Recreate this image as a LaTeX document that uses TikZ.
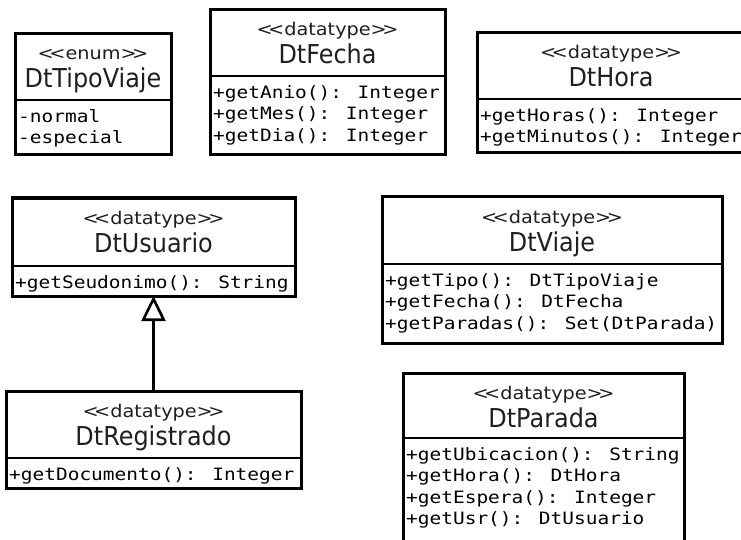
\documentclass[tikz,border=0pt]{standalone}
\usepackage{fontspec}
\usetikzlibrary{arrows.meta}
\newfontfamily\utitle{DejaVu Sans}[FakeStretch=0.92]
\newfontfamily\ustereo{DejaVu Sans}[FakeStretch=1.1]
\newfontfamily\umono{DejaVu Sans Mono}[FakeStretch=1.145]
% stereotype brackets, kept apart so no guillemet ligature forms
\newcommand\stereo[1]{<\kern-4.5pt<#1>\kern-4.5pt>}
\tikzset{
  cbox/.style={draw, line width=3pt, inner sep=0pt, outer sep=0pt, fill=white},
  cline/.style={line width=2.6pt},
  cstereo/.style={anchor=base, inner sep=0pt, font=\ustereo\fontsize{17.5}{20}\selectfont, text=black!88},
  ctitle/.style={anchor=base, inner sep=0pt, font=\utitle\fontsize{26}{30}\selectfont, text=black!88},
  cbody/.style={anchor=north west, inner sep=0pt, align=left, font=\umono\fontsize{17}{21.5}\selectfont, text=black},
  inherit/.style={line width=3pt, -{Triangle[open, length=25pt, width=24pt, line width=2.6pt]}}
}
% #1 name, #2 left, #3 top, #4 right, #5 divider, #6 bottom, #7 stereotype, #8 title, #9 operations
\newcommand\umlclass[9]{%
  \node[cbox, minimum width={#4-#2}, minimum height={#6-#3}] (#1) at ({(#2+#4)/2},{(#3+#6)/2}) {};
  \draw[cline] (#2,#5) -- (#4,#5);
  \node[cstereo] (#1-st) at ({(#2+#4)/2},#3+26) {\stereo{#7}};
  \node[ctitle] (#1-tt) at ({(#2+#4)/2},#3+54) {#8};
  \node[cbody] (#1-ops) at (#2+3,#5+9) {#9};
}
\begin{document}
\begin{tikzpicture}[x=1pt, y=-1pt]
  \useasboundingbox (0,0) rectangle (741,540);
  \fill[white] (0,0) rectangle (741,540);
  \clip (0,0) rectangle (741,540);

  \umlclass{tipo}{15}{34}{171}{100}{155}{enum}{DtTipoViaje}{-normal\\-especial}
  \umlclass{fecha}{210}{10}{445}{76}{155}{datatype}{DtFecha}%
    {+getAnio(): Integer\\+getMes(): Integer\\+getDia(): Integer}
  \umlclass{hora}{477}{33}{745}{99}{153}{datatype}{DtHora}%
    {+getHoras(): Integer\\+getMinutos(): Integer}
  \umlclass{usr}{12}{198}{295}{266}{296}{datatype}{DtUsuario}%
    {+getSeudonimo(): String}
  \umlclass{viaje}{382}{197}{722}{264}{343}{datatype}{DtViaje}%
    {+getTipo(): DtTipoViaje\\+getFecha(): DtFecha\\+getParadas(): Set(DtParada)}
  \umlclass{reg}{6}{391}{301}{458}{488}{datatype}{DtRegistrado}%
    {+getDocumento(): Integer}
  \umlclass{parada}{403}{373}{684}{438}{548}{datatype}{DtParada}%
    {+getUbicacion(): String\\+getHora(): DtHora\\+getEspera(): Integer\\+getUsr(): DtUsuario}

  % generalisation: DtRegistrado specialises DtUsuario
  \draw[inherit] (reg.north) -- (usr.south);
\end{tikzpicture}
\end{document}
